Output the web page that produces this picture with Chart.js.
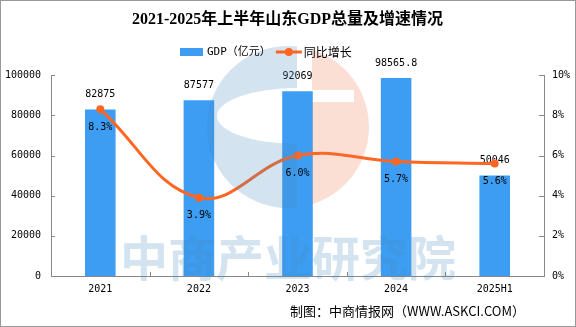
<!DOCTYPE html>
<html>
<head>
<meta charset="utf-8">
<script src="https://cdn.jsdelivr.net/npm/chart.js@4"></script>
<style>
    html, body { margin: 0; padding: 0; background: #fff; }
    canvas { display: block; }
</style>
</head>
<body>
<canvas id="gdpChart" width="576" height="327"></canvas>
<script>
// 2021-2025 上半年山东GDP
const years = ['2021', '2022', '2023', '2024', '2025H1'];
const gdpValues = [82875, 87577, 92069, 98565.8, 50046];
const growthRates = [8.3, 3.9, 6.0, 5.7, 5.6];
const gdpTicks = [0, 20000, 40000, 60000, 80000, 100000];
const rateTicks = [0, 2, 4, 6, 8, 10];

const BAR_COLOR = '#3d9df2';
const LINE_COLOR = '#ff6622';
const AXIS_COLOR = '#888888';
const monoFont = '"DejaVu Sans Mono", "Noto Sans CJK SC", monospace';
const cjkFont = '"Noto Sans CJK SC", sans-serif';

// tick marks point inwards, so draw them ourselves
const innerTicks = {
    id: 'innerTicks',
    afterDraw(chart) {
        const { ctx, chartArea, scales } = chart;
        ctx.save();
        ctx.strokeStyle = AXIS_COLOR;
        ctx.lineWidth = 1;
        ctx.beginPath();
        scales.y.ticks.forEach(t => {
            const y = Math.round(scales.y.getPixelForValue(t.value)) + 0.5;
            ctx.moveTo(chartArea.left, y);
            ctx.lineTo(chartArea.left + 4, y);
        });
        scales.y1.ticks.forEach(t => {
            const y = Math.round(scales.y1.getPixelForValue(t.value)) + 0.5;
            ctx.moveTo(chartArea.right - 5, y);
            ctx.lineTo(chartArea.right, y);
        });
        for (let i = 1; i < years.length; i++) {
            const x = Math.round((scales.x.getPixelForValue(i - 1) + scales.x.getPixelForValue(i)) / 2) + 0.5;
            ctx.moveTo(x, chartArea.bottom);
            ctx.lineTo(x, chartArea.bottom - 4);
        }
        ctx.stroke();
        ctx.restore();
    }
};

// GDP value above each bar (drawn before the line)
const barLabels = {
    id: 'barLabels',
    afterDatasetDraw(chart, args) {
        if (args.meta.type !== 'bar') return;
        const ctx = chart.ctx;
        ctx.save();
        ctx.font = '10px ' + monoFont;
        ctx.fillStyle = '#000';
        ctx.textAlign = 'center';
        ctx.textBaseline = 'middle';
        args.meta.data.forEach((el, i) => {
            ctx.fillText(String(gdpValues[i]), el.x, el.y - 15);
        });
        ctx.restore();
    }
};

// 中商产业研究院 watermark, sits over the bars and line
const watermark = {
    id: 'watermark',
    afterDatasetsDraw(chart) {
        const ctx = chart.ctx;
        const cx = 288, cy = 127, r = 81;
        ctx.save();

        ctx.save();
        ctx.beginPath();
        ctx.rect(0, 0, 297, 327);
        ctx.clip();
        ctx.beginPath();
        ctx.arc(cx, cy, r, 0, Math.PI * 2);
        ctx.ellipse(297, 116, 80, 28, 0, 0, Math.PI * 2);
        ctx.fillStyle = 'rgba(70, 140, 190, 0.24)';
        ctx.fill('evenodd');
        ctx.restore();

        ctx.save();
        ctx.beginPath();
        ctx.rect(312, 0, 264, 327);
        ctx.clip();
        ctx.beginPath();
        ctx.arc(cx, cy, r, 0, Math.PI * 2);
        ctx.rect(312, 90, 42, 12);
        ctx.fillStyle = 'rgba(240, 110, 60, 0.22)';
        ctx.fill('evenodd');
        ctx.restore();

        ctx.font = 'bold 48px ' + cjkFont;
        ctx.fillStyle = 'rgba(70, 140, 190, 0.24)';
        ctx.textAlign = 'center';
        ctx.textBaseline = 'middle';
        ctx.fillText('中商产业研究院', 288, 258);
        ctx.restore();
    }
};

// percent labels under the line points, legend, source note and frame
const overlay = {
    id: 'overlay',
    afterDraw(chart) {
        const ctx = chart.ctx;
        ctx.save();
        ctx.textBaseline = 'middle';

        const lineMeta = chart.getDatasetMeta(0);
        ctx.font = '10px ' + monoFont;
        ctx.fillStyle = '#000';
        ctx.textAlign = 'center';
        lineMeta.data.forEach((el, i) => {
            ctx.fillText(growthRates[i].toFixed(1) + '%', el.x, el.y + 18);
        });

        // legend
        const ly = 52;
        let x = 180;
        ctx.fillStyle = BAR_COLOR;
        ctx.fillRect(x, ly - 4, 23, 8);
        x += 27;
        ctx.font = '11px ' + monoFont;
        ctx.fillStyle = '#000';
        ctx.textAlign = 'left';
        const barLabel = chart.data.datasets[1].label;
        ctx.fillText(barLabel, x, ly);
        x += ctx.measureText(barLabel).width + 5;
        ctx.strokeStyle = LINE_COLOR;
        ctx.lineWidth = 3;
        ctx.beginPath();
        ctx.moveTo(x, ly);
        ctx.lineTo(x + 26, ly);
        ctx.stroke();
        ctx.fillStyle = LINE_COLOR;
        ctx.beginPath();
        ctx.arc(x + 13, ly, 4, 0, Math.PI * 2);
        ctx.fill();
        x += 28;
        ctx.font = '12px ' + cjkFont;
        ctx.fillStyle = '#000';
        ctx.fillText(chart.data.datasets[0].label, x, ly);

        // source
        ctx.font = '13px ' + cjkFont;
        ctx.textAlign = 'right';
        ctx.fillText('制图：中商情报网（WWW.ASKCI.COM）', 525, 311);

        // outer frame
        ctx.strokeStyle = '#999999';
        ctx.lineWidth = 1;
        ctx.strokeRect(0.5, 0.5, chart.width - 1, chart.height - 1);
        ctx.restore();
    }
};

new Chart(document.getElementById('gdpChart'), {
    data: {
        labels: years,
        datasets: [
            {
                type: 'line',
                label: '同比增长',
                data: growthRates,
                yAxisID: 'y1',
                borderColor: LINE_COLOR,
                backgroundColor: LINE_COLOR,
                borderWidth: 3,
                tension: 0.4,
                pointRadius: 4,
                pointBackgroundColor: LINE_COLOR,
                pointBorderWidth: 0,
                order: 0
            },
            {
                type: 'bar',
                label: 'GDP（亿元）',
                data: gdpValues,
                yAxisID: 'y',
                backgroundColor: BAR_COLOR,
                categoryPercentage: 1,
                barPercentage: 0.31,
                order: 1
            }
        ]
    },
    options: {
        responsive: false,
        animation: false,
        layout: {
            padding: { left: 5, right: 6, top: 0, bottom: 32 }
        },
        plugins: {
            legend: { display: false },
            tooltip: { enabled: false },
            title: {
                display: true,
                text: '2021-2025年上半年山东GDP总量及增速情况',
                color: '#000',
                font: { family: '"Liberation Serif", "Noto Sans CJK SC", serif', size: 16, weight: 'bold' },
                padding: { top: 10, bottom: 46 }
            }
        },
        scales: {
            x: {
                grid: { display: false, drawTicks: false },
                border: { display: true, color: AXIS_COLOR },
                ticks: { color: '#000', font: { family: monoFont, size: 10 }, padding: 7 },
                afterFit: axis => { axis.height = 19; }
            },
            y: {
                position: 'left',
                min: 0,
                max: 100000,
                afterBuildTicks: axis => { axis.ticks = gdpTicks.map(v => ({ value: v })); },
                grid: { display: false, drawTicks: false },
                border: { display: true, color: AXIS_COLOR },
                ticks: { color: '#000', font: { family: monoFont, size: 10 }, padding: 10, callback: v => String(v) },
                afterFit: axis => { axis.width = 46; }
            },
            y1: {
                position: 'right',
                min: 0,
                max: 10,
                afterBuildTicks: axis => { axis.ticks = rateTicks.map(v => ({ value: v })); },
                grid: { display: false, drawTicks: false },
                border: { display: true, color: AXIS_COLOR },
                ticks: { color: '#000', font: { family: monoFont, size: 10 }, padding: 8, callback: v => v + '%' },
                afterFit: axis => { axis.width = 26; }
            }
        }
    },
    plugins: [barLabels, watermark, innerTicks, overlay]
});
</script>
</body>
</html>
